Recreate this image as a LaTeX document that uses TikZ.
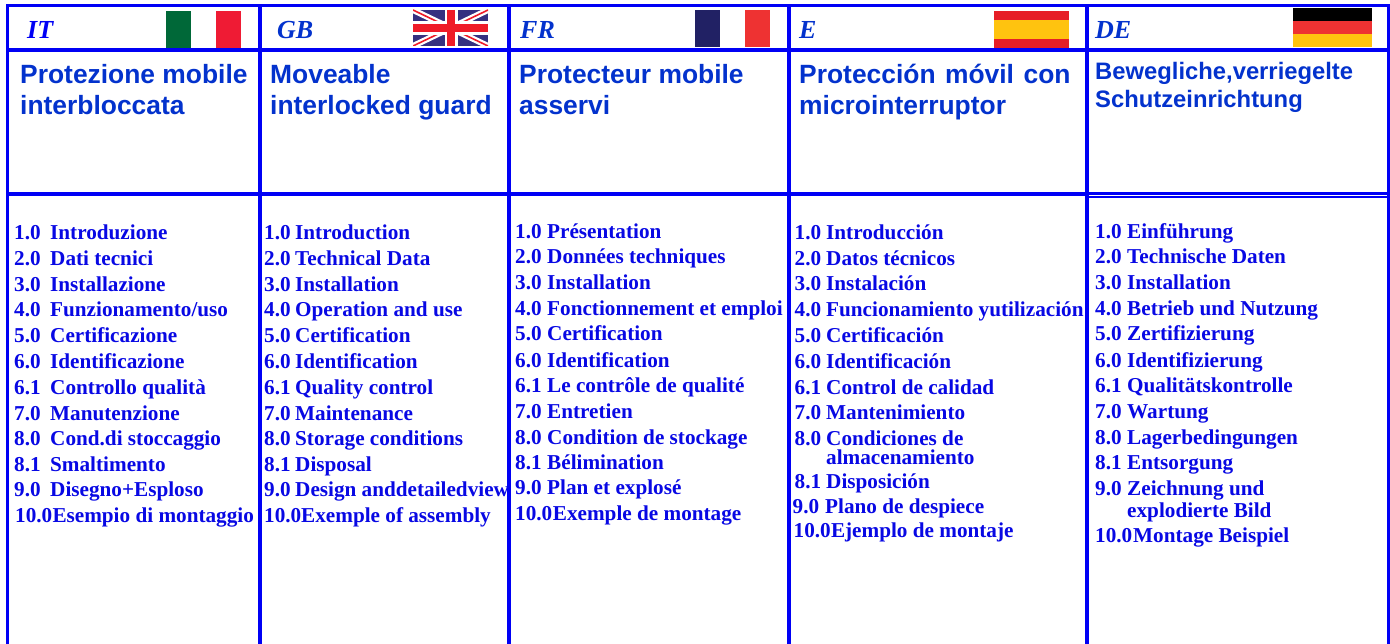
\documentclass[tikz,border=0pt]{standalone}
\usepackage{fontspec}
\setmainfont{Liberation Serif}
\setsansfont{Liberation Sans}
\definecolor{framebl}{RGB}{0,0,245}
\definecolor{titlebl}{RGB}{3,50,205}
\definecolor{listbl}{RGB}{8,8,228}
\tikzset{
  frameline/.style={draw=framebl,line width=4pt},
  frameinner/.style={draw=framebl,line width=2.7pt},
  code/.style={anchor=base west,inner sep=0pt,text=framebl,font=\fontsize{26}{26}\selectfont\bfseries\itshape},
  codeb/.style={code,text=titlebl},
  ttl/.style={anchor=base west,inner sep=0pt,text=titlebl,align=left,font=\fontsize{26.4}{30.5}\selectfont\sffamily\bfseries},
  ttlde/.style={ttl,font=\fontsize{23.8}{28}\selectfont\sffamily\bfseries},
  lab/.style={anchor=base west,inner sep=0pt,text=listbl,font=\fontsize{21.2}{21}\selectfont\bfseries},
}
\newcommand{\entries}[3]{%
  \foreach \n/\yy [count=\i] in {#3} {%
    \node[lab] (#1n\i) at (#2,\yy) {\n};
  }%
}
\begin{document}
\begin{tikzpicture}[x=1pt,y=-1pt]
\useasboundingbox (0,0) rectangle (1390,644);
\fill[white] (0,0) rectangle (1390,644);
% flags
\fill[fill={rgb,255:red,0;green,104;blue,56}] (166,11) rectangle (191,48);
\fill[fill={rgb,255:red,239;green,27;blue,52}] (216,11) rectangle (241,48);
% GB
\begin{scope}
\clip (413,10) rectangle (488,46);
\fill[fill={rgb,255:red,54;green,48;blue,128}] (413,10) rectangle (488,46);
\draw[white,line width=6pt] (413,10) -- (488,46) (413,46) -- (488,10);
\draw[draw={rgb,255:red,239;green,27;blue,40},line width=1.6pt] (413,10) -- (488,46) (413,46) -- (488,10);
\draw[white,line width=13pt] (451,10) -- (451,46);
\draw[white,line width=14pt] (413,28) -- (488,28);
\draw[draw={rgb,255:red,239;green,27;blue,40},line width=8pt] (451,10) -- (451,46) (413,28) -- (488,28);
\end{scope}
% FR
\fill[fill={rgb,255:red,33;green,33;blue,100}] (695,10) rectangle (720,47);
\fill[fill={rgb,255:red,238;green,50;blue,50}] (745,10) rectangle (770,47);
% ES
\fill[fill={rgb,255:red,230;green,30;blue,38}] (994,11) rectangle (1069,48);
\fill[fill={rgb,255:red,255;green,195;blue,15}] (994,20) rectangle (1069,39);
% DE
\fill[black] (1292.5,8) rectangle (1372,21);
\fill[fill={rgb,255:red,238;green,50;blue,50}] (1292.5,21) rectangle (1372,34);
\fill[fill={rgb,255:red,255;green,195;blue,15}] (1292.5,34) rectangle (1372,47);
% frame
\draw[frameline,line width=3pt] (7,644) -- (7,5.5) -- (1390,5.5);
\draw[frameline] (259.5,5.5) -- (259.5,644) (509,5.5) -- (509,644) (788.5,5.5) -- (788.5,644) (1086.5,5.5) -- (1086.5,644);
\draw[frameline] (7,50.3) -- (1390,50.3);
\draw[frameline] (7,194) -- (1086.5,194);
\draw[frameinner] (1086.5,193.3) -- (1390,193.3);
\draw[frameinner,line width=2pt] (1086.5,196.8) -- (1390,196.8);
\draw[frameline,line width=3pt] (1388.5,5.5) -- (1388.5,644);
% codes
\node[code] (cit) at (27,39) {IT};
\node[codeb] (cgb) at (277,39) {GB};
\node[codeb] (cfr) at (520,39) {FR};
\node[codeb] (ce) at (799,39) {E};
\node[codeb] (cde) at (1095,39) {DE};
% titles (the base anchor is the baseline of the last line)
\node[ttl] (tit) at (20,114.5) {Protezione mobile\\interbloccata};
\node[ttl] (tgb) at (270,114.5) {Moveable\\interlocked guard};
\node[ttl] (tfr) at (519,114.5) {Protecteur mobile\\asservi};
\node[ttl] (te) at (799,114.5) {Protección\hspace{9.5pt}móvil\hspace{9.5pt}con\\microinterruptor};
\node[ttlde] (tde) at (1095,107.5) {Bewegliche,verriegelte\\Schutzeinrichtung};
% lists
\entries{a}{14}{1.0/240,2.0/266,3.0/292,4.0/317,5.0/343,6.0/368,6.1/394,7.0/420,8.0/445,8.1/471,9.0/496}
\node[lab] (an12) at (15,522) {10.0};
\foreach \t/\yy [count=\i] in {Introduzione/240,Dati tecnici/266,Installazione/292,{Funzionamento/uso}/317,Certificazione/343,Identificazione/368,Controllo qualità/394,Manutenzione/420,Cond.di stoccaggio/445,Smaltimento/471,Disegno+Esploso/496}
  \node[lab] (al\i) at (50,\yy) {\t};
\node[lab] (al12) at (52.3,522) {Esempio di montaggio};
\entries{b}{264}{1.0/240,2.0/266,3.0/292,4.0/317,5.0/343,6.0/368,6.1/394,7.0/420,8.0/445,8.1/471,9.0/496,10.0/522}
\foreach \t/\yy [count=\i] in {Introduction/240,Technical Data/266,Installation/292,Operation and use/317,Certification/343,Identification/368,Quality control/394,Maintenance/420,Storage conditions/445,Disposal/471,Design anddetailedview/496}
  \node[lab] (bl\i) at (295,\yy) {\t};
\node[lab] (bl12) at (301,522) {Exemple of assembly};
\entries{c}{515}{1.0/239,2.0/264,3.0/290,4.0/316,5.0/341,6.0/367,6.1/392,7.0/418,8.0/444,8.1/469,9.0/494,10.0/520}
\foreach \t/\yy [count=\i] in {Présentation/239,Données techniques/264,Installation/290,Fonctionnement et emploi/316,Certification/341,Identification/367,Le contrôle de qualité/392,Entretien/418,Condition de stockage/444,Bélimination/469,Plan et explosé/494}
  \node[lab] (cl\i) at (547,\yy) {\t};
\node[lab] (cl12) at (552.7,520) {Exemple de montage};
\entries{d}{794.5}{1.0/240,2.0/266,3.0/291,4.0/317,5.0/343,6.0/368,6.1/394,7.0/419,8.0/445,8.1/488}
\node[lab] (dn11) at (792.5,513) {9.0};
\node[lab] (dn12) at (793.5,537) {10.0};
\foreach \t/\yy [count=\i] in {Introducción/240,Datos técnicos/266,Instalación/291,Funcionamiento yutilización/317,Certificación/343,Identificación/368,Control de calidad/394,Mantenimiento/419,Condiciones de/445,almacenamiento/464,Disposición/488}
  \node[lab] (dl\i) at (826,\yy) {\t};
\node[lab] (dl12) at (825,513) {Plano de despiece};
\node[lab] (dl13) at (830.8,537) {Ejemplo de montaje};
\entries{e}{1095}{1.0/239,2.0/264,3.0/290,4.0/316,5.0/341,6.0/367,6.1/392,7.0/418,8.0/444,8.1/469,9.0/495,10.0/542}
\foreach \t/\yy [count=\i] in {Einführung/239,Technische Daten/264,Installation/290,Betrieb und Nutzung/316,Zertifizierung/341,Identifizierung/367,Qualitätskontrolle/392,Wartung/418,Lagerbedingungen/444,Entsorgung/469,Zeichnung und/495,explodierte Bild/517}
  \node[lab] (el\i) at (1127,\yy) {\t};
\node[lab] (el13) at (1133,542) {Montage Beispiel};
\end{tikzpicture}
\end{document}
